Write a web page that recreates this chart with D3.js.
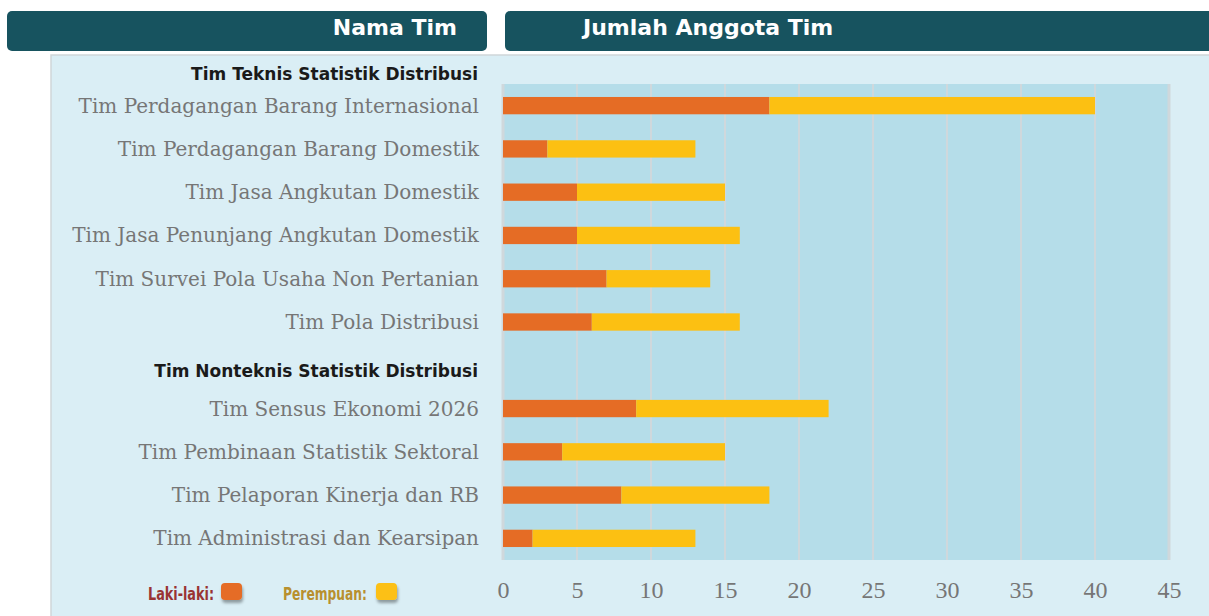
<!DOCTYPE html>
<html>
<head>
<meta charset="utf-8">
<script src="https://cdn.jsdelivr.net/npm/d3@7"></script>
<style>
  body { margin: 0; background: #ffffff; }
  svg { display: block; }
</style>
</head>
<body>
<div id="app"></div>
<script>
// team names, "" marks the gap row where the second group heading sits
const teams = [
    "Tim Perdagangan Barang Internasional",
    "Tim Perdagangan Barang Domestik",
    "Tim Jasa Angkutan Domestik",
    "Tim Jasa Penunjang Angkutan Domestik",
    "Tim Survei Pola Usaha Non Pertanian",
    "Tim Pola Distribusi",
    "",
    "Tim Sensus Ekonomi 2026",
    "Tim Pembinaan Statistik Sektoral",
    "Tim Pelaporan Kinerja dan RB",
    "Tim Administrasi dan Kearsipan"
];
const lakiLaki  = [18, 3, 5, 5, 7, 6, 0, 9, 4, 8, 2];
const perempuan = [22, 10, 10, 11, 7, 10, 0, 13, 11, 10, 11];
const groupTitles = ["Tim Teknis Statistik Distribusi", "Tim Nonteknis Statistik Distribusi"];
const xTicks = [0, 5, 10, 15, 20, 25, 30, 35, 40, 45];
const seriesNames = ["Laki-laki", "Perempuan"];

const width = 1209, height = 616;
const orange = "#e56c25", yellow = "#fcc012";

let rows = teams.map((t, i) => ({team: t, idx: i, "Laki-laki": lakiLaki[i], "Perempuan": perempuan[i]}));

let svg = d3.select("#app").append("svg")
    .attr("width", width)
    .attr("height", height);

let defs = svg.append("defs");
let f = defs.append("filter").attr("id", "shadow")
    .attr("x", "-30%").attr("y", "-30%").attr("width", "160%").attr("height", "190%");
f.append("feDropShadow").attr("dx", 1).attr("dy", 3).attr("stdDeviation", 1.5)
    .attr("flood-color", "#000").attr("flood-opacity", 0.35);

// header boxes
svg.append("rect").attr("x", 7).attr("y", 11).attr("width", 480).attr("height", 40)
    .attr("rx", 5).attr("fill", "#17535f");
svg.append("rect").attr("x", 505).attr("y", 11).attr("width", 720).attr("height", 40)
    .attr("rx", 5).attr("fill", "#17535f");
svg.append("text").attr("x", 457).attr("y", 35).attr("text-anchor", "end")
    .attr("font-family", "DejaVu Sans").attr("font-weight", "bold").attr("font-size", 22)
    .attr("fill", "#fff").text("Nama Tim");
svg.append("text").attr("x", 583).attr("y", 35)
    .attr("font-family", "DejaVu Sans").attr("font-weight", "bold").attr("font-size", 22)
    .attr("fill", "#fff").text("Jumlah Anggota Tim");

// light panel
svg.append("rect").attr("x", 51).attr("y", 55).attr("width", 1170).attr("height", 570)
    .attr("fill", "#daeef5").attr("stroke", "#cfd6d9").attr("stroke-width", 1.5);

let margin = {left: 503, right: 40, top: 84, bottom: 56};

let x = d3.scaleLinear()
    .domain([0, 45])
    .range([margin.left, width - margin.right]);

let y = d3.scaleBand()
    .domain(d3.range(teams.length))
    .range([margin.top, height - margin.bottom])
    .paddingInner(0.6)
    .paddingOuter(0.3);

// plot background
svg.append("rect")
    .attr("x", x(0) - 1).attr("y", margin.top)
    .attr("width", x(45) - x(0) + 1).attr("height", height - margin.bottom - margin.top)
    .attr("fill", "#b5dde9");

// gridlines
svg.append("g").selectAll("line")
    .data(xTicks)
    .enter().append("line")
        .attr("x1", d => x(d)).attr("x2", d => x(d))
        .attr("y1", margin.top).attr("y2", height - margin.bottom)
        .attr("stroke", "#cfd8dc").attr("stroke-width", d => d === 0 || d === 45 ? 3 : 2);

// stacked bars
let stacked = d3.stack().keys(seriesNames)(rows);
let color = d3.scaleOrdinal().domain(seriesNames).range([orange, yellow]);

svg.append("g").selectAll("g")
    .data(stacked)
    .enter().append("g")
        .attr("fill", d => color(d.key))
        .selectAll("rect")
        .data(d => d.filter(p => p.data.team !== ""))
        .enter().append("rect")
            .attr("x", d => x(d[0]))
            .attr("y", d => y(d.data.idx))
            .attr("width", d => x(d[1]) - x(d[0]))
            .attr("height", y.bandwidth());

// team labels
svg.append("g").selectAll("text")
    .data(rows.filter(r => r.team !== ""))
    .enter().append("text")
        .attr("x", 479)
        .attr("y", d => y(d.idx) + y.bandwidth() / 2)
        .attr("dy", "0.35em")
        .attr("text-anchor", "end")
        .attr("font-family", "DejaVu Serif")
        .attr("font-size", 20)
        .attr("fill", "#767676")
        .text(d => d.team);

// group headings
let gapIdx = teams.indexOf("");
svg.append("g").selectAll("text")
    .data(groupTitles)
    .enter().append("text")
        .attr("x", 478)
        .attr("y", (d, i) => i === 0 ? 80 : y(gapIdx) + y.bandwidth() / 2 + 12)
        .attr("text-anchor", "end")
        .attr("font-family", "DejaVu Sans")
        .attr("font-weight", "bold")
        .attr("font-size", 17)
        .attr("fill", "#1a1a1a")
        .text(d => d);

// x axis
let axis = svg.append("g")
    .attr("transform", "translate(0," + (height - margin.bottom) + ")")
    .call(d3.axisBottom(x).tickValues(xTicks).tickSize(0).tickPadding(21));
axis.select(".domain").remove();
axis.selectAll("text")
    .attr("font-family", "Liberation Serif")
    .attr("font-size", 24)
    .attr("fill", "#767676");

// legend
let legend = [
    {name: "Laki-laki:", color: orange, text: "#993333", end: 214, sx: 221, w: 66},
    {name: "Perempuan:", color: yellow, text: "#b8902e", end: 367, sx: 376, w: 84}
];
let lg = svg.append("g").selectAll("g").data(legend).enter().append("g");
lg.append("text")
    .attr("x", d => d.end).attr("y", 600)
    .attr("text-anchor", "end")
    .attr("font-family", "DejaVu Sans").attr("font-weight", "bold").attr("font-size", 18)
    .attr("textLength", d => d.w).attr("lengthAdjust", "spacingAndGlyphs")
    .attr("fill", d => d.text)
    .text(d => d.name);
lg.append("rect")
    .attr("x", d => d.sx).attr("y", 583)
    .attr("width", 21).attr("height", 17).attr("rx", 4)
    .attr("fill", d => d.color)
    .attr("filter", "url(#shadow)");
</script>
</body>
</html>
